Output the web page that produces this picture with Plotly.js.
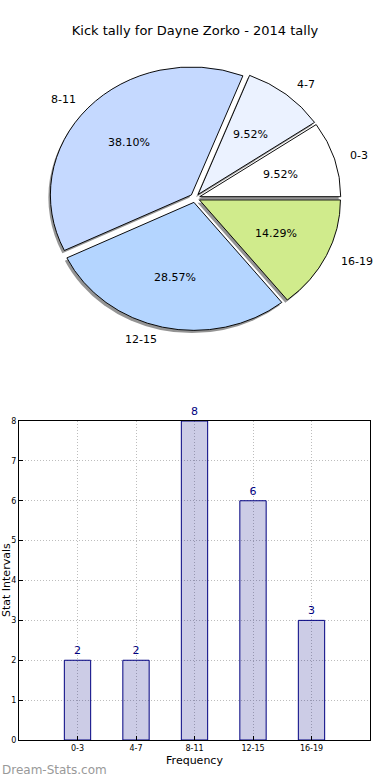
<!DOCTYPE html>
<html><head><meta charset="utf-8">
<script src="https://cdn.plot.ly/plotly-3.0.1.min.js"></script>
<style>
html,body{margin:0;padding:0;background:#fff}
#wrap{position:relative;width:390px;height:780px}
#pie{position:absolute;left:0;top:0;width:390px;height:400px;transform-origin:195px 198px}
#chart{position:absolute;left:0;top:0;width:390px;height:780px}
</style>
</head><body><div id="wrap"><div id="pie"></div><div id="chart"></div></div>
<script>
const categories = ["0-3", "4-7", "8-11", "12-15", "16-19"];
const counts = [2, 2, 8, 6, 3];
const sliceColors = ["#ffffff", "#ebf2ff", "#c5d9ff", "#b4d5ff", "#d0eb8c"];
const yTicks = [0, 1, 2, 3, 4, 5, 6, 7, 8];

const W = 390, H = 780;
const font = "DejaVu Sans, sans-serif";
const total = counts.reduce((a, b) => a + b, 0);
const explode = 0.035;

// ---- pie geometry (pixels): an ellipse like the unequal-aspect original
const cx = 195, cy = 198, rx = 141, ry = 128;
const PH = 400;
document.getElementById("pie").style.transform = "scaleY(" + (ry / rx) + ")";
const half = rx * (1 + explode);
function dom(dx, dy) {
  return {x: [(cx + dx - half) / W, (cx + dx + half) / W],
          y: [1 - (cy + dy + half) / PH, 1 - (cy + dy - half) / PH]};
}
// first slice starts at 3 o'clock and runs counterclockwise (Plotly puts its end at `rotation`)
const rot = 90 - 360 * counts[0] / total;
const common = {type: "pie", labels: categories, values: counts, sort: false,
  direction: "counterclockwise", rotation: rot, pull: counts.map(() => explode),
  hoverinfo: "none", showlegend: false, textinfo: "none"};
const shadow = Object.assign({}, common, {domain: dom(-2, 3),
  marker: {colors: categories.map(() => "rgba(0,0,0,0.42)"), line: {width: 0}}});
const main = Object.assign({}, common, {domain: dom(0, 0),
  marker: {colors: sliceColors, line: {color: "#000", width: 1}}});

Plotly.newPlot("pie", [shadow, main], {width: W, height: PH, margin: {l: 0, r: 0, t: 0, b: 0},
  paper_bgcolor: "rgba(0,0,0,0)", plot_bgcolor: "rgba(0,0,0,0)"}, {staticPlot: true});

// ---- label / percentage text positions derived from the slice angles
const annotations = [];
let acc = 0;
counts.forEach((v, i) => {
  const mid = (acc + v / 2) / total * 2 * Math.PI;
  acc += v;
  const c = Math.cos(mid), s = Math.sin(mid);
  const ox = cx + explode * rx * c, oy = cy - explode * ry * s;
  annotations.push({text: categories[i], xref: "paper", yref: "paper",
    x: (ox + 1.1 * rx * c) / W, y: 1 - (oy - 1.1 * ry * s) / H,
    xanchor: c > 0 ? "left" : "right", yanchor: "middle", showarrow: false,
    font: {family: font, size: 11, color: "#000"}});
  annotations.push({text: (100 * v / total).toFixed(2) + "%", xref: "paper", yref: "paper",
    x: (ox + 0.6 * rx * c) / W, y: 1 - (oy - 0.6 * ry * s) / H,
    xanchor: "center", yanchor: "middle", showarrow: false,
    font: {family: font, size: 11, color: "#000"}});
});
annotations.push(
  {text: "Stat Intervals", xref: "paper", yref: "paper", x: 6 / W, y: 1 - 580 / H,
   textangle: -90, showarrow: false, xanchor: "center", yanchor: "middle",
   font: {family: font, size: 11, color: "#000"}},
  {text: "Dream-Stats.com", xref: "paper", yref: "paper", x: 0, y: 1 - 770 / H,
   xanchor: "left", yanchor: "middle", showarrow: false,
   font: {family: font, size: 12, color: "#999"}});

const bars = {type: "bar", x: categories, y: counts, xaxis: "x", yaxis: "y",
  width: 0.45, text: counts.map(String), textposition: "outside", cliponaxis: false,
  textfont: {family: font, size: 11, color: "#000080"},
  marker: {color: "rgba(0,0,128,0.2)", line: {color: "#000080", width: 1}},
  hoverinfo: "none", showlegend: false};

const grid = {showgrid: true, gridcolor: "#bdbdbd", griddash: "1px,2px", gridwidth: 1};
const layout = {
  width: W, height: H, margin: {l: 0, r: 0, t: 0, b: 0},
  paper_bgcolor: "rgba(0,0,0,0)", plot_bgcolor: "rgba(0,0,0,0)",
  font: {family: font, color: "#000"},
  title: {text: "Kick tally for Dayne Zorko - 2014 tally", x: 0.5, xanchor: "center",
    y: 1 - 30 / H, yanchor: "middle", font: {family: font, size: 13, color: "#000"}},
  xaxis: Object.assign({domain: [19 / W, 370 / W], anchor: "y", type: "category", range: [-1, 5],
    showline: true, linecolor: "#000", linewidth: 1, mirror: true,
    ticks: "inside", ticklen: 4, tickcolor: "#000",
    tickfont: {family: font, size: 8, color: "#000"}, zeroline: false,
    title: {text: "Frequency", font: {family: font, size: 11, color: "#000"}, standoff: 4}}, grid),
  yaxis: Object.assign({domain: [40 / H, 359 / H], anchor: "x", range: [0, 8],
    tickvals: yTicks, ticktext: yTicks.map(String),
    showline: true, linecolor: "#000", linewidth: 1, mirror: true,
    ticks: "inside", ticklen: 4, tickcolor: "#000",
    tickfont: {family: font, size: 8, color: "#000"}, zeroline: false}, grid),
  annotations: annotations
};

Plotly.newPlot("chart", [bars], layout, {staticPlot: true});
</script></body></html>
